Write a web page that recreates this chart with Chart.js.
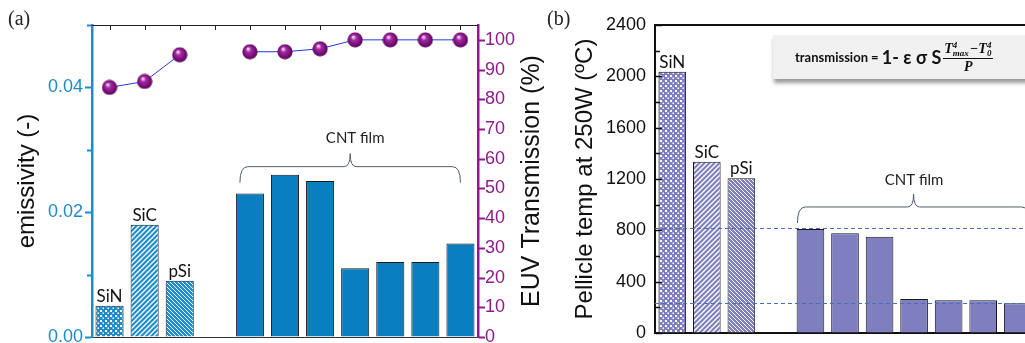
<!DOCTYPE html>
<html>
<head>
<meta charset="utf-8">
<script src="https://cdn.jsdelivr.net/npm/chart.js@4.4.1/dist/chart.umd.min.js"></script>
<style>
    body { margin: 0; width: 1025px; height: 343px; overflow: hidden; background: #fff; position: relative; }
    .wrap { position: absolute; top: 0; }
    #wrapA { left: 0; }
    #wrapB { left: 540px; }
    .panel { position: absolute; top: 7px; font-family: "Liberation Serif", serif; font-size: 20px; color: #222; }
    #formula {
        position: absolute; left: 773px; top: 35px; width: 270px; height: 44px;
        background: #f1f1f1; box-shadow: 1px 4px 4px rgba(0, 0, 0, 0.4);
        display: flex; align-items: center; padding-left: 22px; box-sizing: border-box;
        font-family: Lato, "Open Sans", sans-serif; font-weight: bold; color: #111;
    }
    #formula .w { font-size: 13px; white-space: pre; }
    #formula .big { font-size: 18px; white-space: pre; }
    .frac { display: inline-flex; flex-direction: column; align-items: center; margin-left: 2px; font-family: "Liberation Serif", serif; font-style: italic; font-size: 14px; }
    .frac .num { border-bottom: 1px solid #111; padding: 0 1px; display: flex; align-items: center; line-height: 18px; }
    .frac .den { line-height: 15px; }
    .ss { display: inline-flex; flex-direction: column; font-size: 9px; line-height: 8px; margin-right: 1px; }
</style>
</head>
<body>
<div class="wrap" id="wrapA"><canvas id="chartA" width="547" height="343"></canvas></div>
<div class="wrap" id="wrapB"><canvas id="chartB" width="495" height="343"></canvas></div>
<div class="panel" style="left:8px">(a)</div>
<div class="panel" style="left:547px">(b)</div>
<div id="formula"><span class="w">transmission = </span><span class="big">1- ε σ S</span><span class="frac"><span class="num">T<span class="ss"><span>4</span><span>max</span></span>−T<span class="ss"><span>4</span><span>0</span></span></span><span class="den">P</span></span></div>
<script>
var categories = ["SiN", "SiC", "pSi", "", "CNT 1", "CNT 2", "CNT 3", "CNT 4", "CNT 5", "CNT 6", "CNT 7"];
var labelledBars = ["SiN", "SiC", "pSi"];
var emissivity = [0.005, 0.018, 0.009, null, 0.023, 0.026, 0.025, 0.011, 0.012, 0.012, 0.015];
var transmission = [84, 86, 95, null, 96, 96, 97, 100, 100, 100, 100];
var pellicleTemp = [2035, 1335, 1205, null, 810, 778, 750, 265, 255, 255, 232];
var refTemps = [815, 232];
var emissivityTicks = [0, 0.02, 0.04];
var transmissionTicks = [0, 10, 20, 30, 40, 50, 60, 70, 80, 90, 100];
var tempTicks = [0, 400, 800, 1200, 1600, 2000, 2400];

var BLUE = "#1b8ccc";
var CNT_BLUE = "#0a7fc0";
var PURPLE = "#8e1b8e";
var LAVENDER = "#7f7fc0";
var TICK_FONT = { family: "Liberation Sans", size: 18 };
var TITLE_FONT = { family: "Liberation Sans", size: 24 };

function makePattern(color, kind) {
    var size = kind == "back" ? 4 : 5;
    var c = document.createElement("canvas");
    c.width = size;
    c.height = size;
    var g = c.getContext("2d");
    g.fillStyle = color;
    g.fillRect(0, 0, size, size);
    g.fillStyle = "#fff";
    g.strokeStyle = "#fff";
    if (kind == "dots") {
        g.fillRect(0, 0, 2, 2);
        g.fillRect(2.5, 2.5, 1.5, 1.5);
    } else if (kind == "fwd") {
        g.lineWidth = 1.4;
        g.beginPath();
        g.moveTo(-1, size + 1); g.lineTo(size + 1, -1);
        g.moveTo(-1, 1); g.lineTo(1, -1);
        g.moveTo(size - 1, size + 1); g.lineTo(size + 1, size - 1);
        g.stroke();
    } else {
        g.lineWidth = 1;
        g.beginPath();
        g.moveTo(-1, -1); g.lineTo(size + 1, size + 1);
        g.moveTo(size - 1, -1); g.lineTo(size + 1, 1);
        g.moveTo(-1, size - 1); g.lineTo(1, size + 1);
        g.stroke();
    }
    return g.createPattern(c, "repeat");
}

function barFills(color, solid) {
    return [makePattern(color, "dots"), makePattern(color, "fwd"), makePattern(color, "back"), solid,
        solid, solid, solid, solid, solid, solid, solid];
}

function makeSphere() {
    var c = document.createElement("canvas");
    c.width = 16;
    c.height = 16;
    var g = c.getContext("2d");
    var grad = g.createRadialGradient(6, 5, 0.5, 8, 8, 8);
    grad.addColorStop(0, "#f6dcf6");
    grad.addColorStop(0.3, "#a52aa5");
    grad.addColorStop(0.8, "#6e0a6e");
    grad.addColorStop(1, "#4a004a");
    g.fillStyle = grad;
    g.beginPath();
    g.arc(8, 8, 7.6, 0, Math.PI * 2);
    g.fill();
    return c;
}

// keep the chart area where the axes put it
function fixWidth(w) {
    return function (s) {
        s.width = w;
        s.paddingTop = 0;
        s.paddingBottom = 0;
    };
}

function fixHeight(h) {
    return function (s) {
        s.height = h;
        s.paddingLeft = 0;
        s.paddingRight = 0;
    };
}

function drawTicks(ctx, scale, edge, dir, color, width, values) {
    ctx.save();
    ctx.strokeStyle = color;
    ctx.lineWidth = width;
    ctx.beginPath();
    scale.ticks.forEach(function (t) {
        var py = Math.round(scale.getPixelForValue(t.value)) + 0.5;
        var major = values.some(function (v) { return Math.abs(v - t.value) < 1e-9; });
        var len = major ? 6 : 4;
        ctx.moveTo(edge, py);
        ctx.lineTo(edge + dir * len, py);
    });
    ctx.stroke();
    ctx.restore();
}

function drawBrace(ctx, x1, x2, y) {
    var xm = (x1 + x2) / 2;
    ctx.save();
    ctx.strokeStyle = "#4f5b6e";
    ctx.lineWidth = 1;
    ctx.beginPath();
    ctx.moveTo(x1, y + 16);
    ctx.quadraticCurveTo(x1, y, x1 + 8, y);
    ctx.lineTo(xm - 6, y);
    ctx.quadraticCurveTo(xm, y, xm, y - 13);
    ctx.quadraticCurveTo(xm, y, xm + 6, y);
    ctx.lineTo(x2 - 8, y);
    ctx.quadraticCurveTo(x2, y, x2, y + 16);
    ctx.stroke();
    ctx.restore();
}

function decorate(opts) {
    return {
        id: "decorate",
        afterDatasetsDraw: function (chart) {
            var ctx = chart.ctx;
            var area = chart.chartArea;
            var x = chart.scales.x;
            var y = chart.scales.y;
            // names above the first bars
            var bars = chart.getDatasetMeta(opts.barSet).data;
            ctx.save();
            ctx.font = "17px Lato";
            ctx.fillStyle = "#111";
            ctx.textAlign = "center";
            ctx.textBaseline = "bottom";
            bars.forEach(function (bar, i) {
                if (labelledBars.indexOf(categories[i]) > -1) {
                    ctx.fillText(categories[i], bar.x, bar.y - 1);
                }
            });
            // CNT film brace
            var first = x.getPixelForValue(4);
            var last = x.getPixelForValue(10);
            var by = y.getPixelForValue(opts.braceAt);
            drawBrace(ctx, first - opts.braceLeft, last + opts.braceRight, by);
            ctx.font = "15px Lato";
            ctx.fillStyle = "#222";
            ctx.textBaseline = "middle";
            ctx.fillText("CNT film", (first + last) / 2, y.getPixelForValue(opts.textAt));
            ctx.restore();
            if (opts.after) {
                opts.after(chart, ctx, area);
            }
        }
    };
}

function loadChartA() {
    var ctx = document.getElementById("chartA");
    var config = {
        type: "bar",
        data: {
            labels: categories,
            datasets: [{
                type: "line",
                data: transmission,
                yAxisID: "y2",
                borderColor: "#2437e0",
                borderWidth: 1,
                pointStyle: makeSphere(),
                spanGaps: false,
                order: 0
            }, {
                data: emissivity,
                yAxisID: "y",
                backgroundColor: barFills(BLUE, CNT_BLUE),
                borderColor: "#1a1a1a",
                borderWidth: 1,
                barPercentage: 0.8,
                categoryPercentage: 1,
                order: 1
            }]
        },
        options: {
            responsive: false,
            animation: false,
            layout: { padding: { top: 25 } },
            plugins: { legend: { display: false }, tooltip: { enabled: false } },
            scales: {
                x: {
                    ticks: { display: false },
                    grid: { drawOnChartArea: false, drawTicks: false },
                    border: { color: "#333", width: 1 },
                    afterFit: fixHeight(6)
                },
                y: {
                    position: "left",
                    min: 0,
                    max: 0.05,
                    ticks: {
                        stepSize: 0.01,
                        padding: 9,
                        color: BLUE,
                        font: TICK_FONT,
                        callback: function (v) {
                            return emissivityTicks.some(function (t) { return Math.abs(t - v) < 1e-9; }) ? v.toFixed(2) : "";
                        }
                    },
                    grid: { drawOnChartArea: false, drawTicks: false },
                    border: { color: BLUE, width: 2.5 },
                    title: { display: true, text: "emissivity (-)", color: "#111", font: TITLE_FONT, padding: { top: 13 } },
                    afterFit: fixWidth(92)
                },
                y2: {
                    position: "right",
                    min: 0,
                    max: 105,
                    ticks: {
                        stepSize: 5,
                        padding: 7,
                        color: PURPLE,
                        font: TICK_FONT,
                        callback: function (v) { return transmissionTicks.indexOf(v) > -1 ? v : ""; }
                    },
                    grid: { drawOnChartArea: false, drawTicks: false },
                    border: { color: PURPLE, width: 2.5 },
                    afterFit: fixWidth(69)
                }
            }
        },
        plugins: [{
            id: "frameA",
            afterDraw: function (chart) {
                var c = chart.ctx;
                var area = chart.chartArea;
                var x = chart.scales.x;
                drawTicks(c, chart.scales.y, area.left - 1, -1, BLUE, 2, emissivityTicks);
                drawTicks(c, chart.scales.y2, area.right + 1, 1, PURPLE, 2, transmissionTicks);
                c.save();
                c.strokeStyle = "#222";
                c.lineWidth = 1;
                c.beginPath();
                c.moveTo(area.left, area.top + 0.5);
                c.lineTo(area.right, area.top + 0.5);
                x.ticks.forEach(function (t, i) {
                    var px = Math.round(x.getPixelForTick(i)) + 0.5;
                    c.moveTo(px, area.top);
                    c.lineTo(px, area.top + 5);
                });
                c.stroke();
                c.translate(area.right + 54, (area.top + area.bottom) / 2);
                c.rotate(-Math.PI / 2);
                c.font = "25px 'Liberation Sans'";
                c.fillStyle = "#111";
                c.textAlign = "center";
                c.textBaseline = "middle";
                c.fillText("EUV Transmission (%)", 0, 0);
                c.restore();
            }
        }, decorate({ barSet: 1, braceAt: 0.0273, textAt: 0.0318, braceLeft: 10, braceRight: 0, after: null })]
    };
    return new Chart(ctx, config);
}

function loadChartB() {
    var ctx = document.getElementById("chartB");
    var config = {
        type: "bar",
        data: {
            labels: categories,
            datasets: [{
                data: pellicleTemp,
                backgroundColor: barFills(LAVENDER, LAVENDER),
                borderColor: "#1a1a1a",
                borderWidth: 1,
                barPercentage: 0.8,
                categoryPercentage: 1
            }]
        },
        options: {
            responsive: false,
            animation: false,
            layout: { padding: { top: 25 } },
            plugins: { legend: { display: false }, tooltip: { enabled: false } },
            scales: {
                x: {
                    ticks: { display: false },
                    grid: { drawOnChartArea: false, drawTicks: false },
                    border: { color: "#111", width: 2 },
                    afterFit: fixHeight(10)
                },
                y: {
                    min: 0,
                    max: 2400,
                    ticks: {
                        stepSize: 200,
                        padding: 9,
                        color: "#111",
                        font: TICK_FONT,
                        callback: function (v) { return tempTicks.indexOf(v) > -1 ? v : ""; }
                    },
                    grid: { drawOnChartArea: false, drawTicks: false },
                    border: { color: "#111", width: 2 },
                    title: { display: true, text: "Pellicle temp at 250W (ºC)", color: "#111", font: TITLE_FONT, padding: { top: 31 } },
                    afterFit: fixWidth(115)
                }
            }
        },
        plugins: [decorate({
            barSet: 0, braceAt: 982, textAt: 1192, braceLeft: 13, braceRight: 12,
            after: function (chart, c, area) {
                var y = chart.scales.y;
                drawTicks(c, y, area.left + 1, 1, "#111", 1.5, tempTicks);
                c.save();
                c.strokeStyle = "#4a6fb8";
                c.lineWidth = 1;
                c.setLineDash([4, 3]);
                c.beginPath();
                refTemps.forEach(function (t) {
                    var py = Math.round(y.getPixelForValue(t)) + 0.5;
                    c.moveTo(area.left, py);
                    c.lineTo(area.right, py);
                });
                c.stroke();
                c.setLineDash([]);
                c.strokeStyle = "#111";
                c.lineWidth = 2;
                c.beginPath();
                c.moveTo(area.left - 1, area.top);
                c.lineTo(area.right, area.top);
                c.stroke();
                c.restore();
            }
        })]
    };
    return new Chart(ctx, config);
}

loadChartA();
loadChartB();
</script>
</body>
</html>
